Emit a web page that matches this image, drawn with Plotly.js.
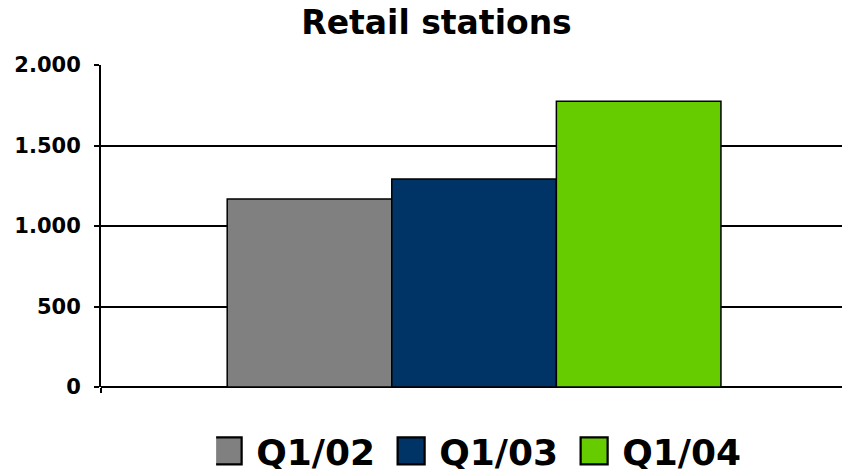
<!DOCTYPE html>
<html>
<head>
<meta charset="utf-8">
<script src="https://cdn.plot.ly/plotly-3.0.1.min.js"></script>
<style>
html,body{margin:0;padding:0;background:#fff;}
#chart{width:843px;height:469px;}
</style>
</head>
<body>
<div id="chart"></div>
<script>
const categories = ["Retail stations"];
const seriesNames = ["Q1/02", "Q1/03", "Q1/04"];
const seriesValues = [[1168], [1292], [1775]];
const seriesColors = ["#808080", "#003366", "#66CC00"];
const tickValues = [0, 500, 1000, 1500, 2000];
const tickLabels = ["0", "500", "1.000", "1.500", "2.000"];

const FONT = "DejaVu Sans";

const traces = seriesNames.map((name, i) => ({
  type: "bar",
  name: name,
  x: [0],
  y: seriesValues[i],
  marker: {color: seriesColors[i], line: {color: "#000", width: 1.5}},
  hoverinfo: "none"
}));

const layout = {
  width: 843,
  height: 469,
  margin: {l: 101, r: 1, t: 65, b: 82, autoexpand: false},
  paper_bgcolor: "#fff",
  plot_bgcolor: "#fff",
  barmode: "group",
  bargap: 0.329,
  bargroupgap: 0,
  title: {
    text: "<b>" + categories[0] + "</b>",
    font: {family: FONT, size: 33, color: "#000"},
    x: 436.5 / 843, xref: "container", xanchor: "center",
    y: 1 - 22 / 469, yref: "container", yanchor: "middle"
  },
  xaxis: {
    type: "linear",
    range: [-0.507, 0.5],
    showgrid: false,
    zeroline: false,
    showticklabels: false,
    tickmode: "array",
    tickvals: [-0.507],
    ticks: "outside",
    ticklen: 5,
    tickwidth: 2,
    tickcolor: "#000",
    showline: false
  },
  yaxis: {
    range: [0, 2000],
    tickmode: "array",
    tickvals: tickValues,
    ticktext: tickLabels,
    ticks: "outside",
    ticklen: 5,
    tickwidth: 2,
    tickcolor: "#000",
    ticklabelstandoff: 9,
    showline: true,
    linecolor: "#000",
    linewidth: 2,
    showgrid: true,
    gridcolor: "#000",
    gridwidth: 2,
    zeroline: true,
    zerolinecolor: "#000",
    zerolinewidth: 2,
    tickfont: {family: FONT, size: 21, color: "#000", weight: "bold"}
  },
  showlegend: true,
  legend: {
    orientation: "h",
    x: 0.582, xref: "container", xanchor: "center",
    y: -(451 - 387) / 322, yref: "paper", yanchor: "middle",
    font: {family: FONT, size: 36, color: "#000", weight: "bold"},
    entrywidth: 138,
    entrywidthmode: "pixels",
    itemclick: false,
    itemdoubleclick: false,
    bgcolor: "rgba(0,0,0,0)",
    traceorder: "normal"
  }
};

Plotly.newPlot("chart", traces, layout, {displayModeBar: false, staticPlot: true}).then(gd => {
  gd.querySelectorAll(".legend .legendpoints path").forEach(p => {
    p.setAttribute("transform", "translate(12,0) scale(2.25)");
    p.style.strokeWidth = "1px";
  });
});
</script>
</body>
</html>
